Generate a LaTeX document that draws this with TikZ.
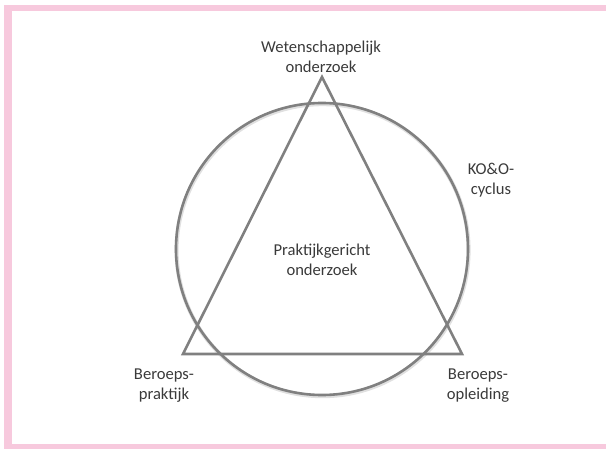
\documentclass[tikz,border=0pt]{standalone}
\usepackage{fontspec}
\setmainfont{Carlito}
\definecolor{framepink}{HTML}{F7C9DD}
\definecolor{linegray}{HTML}{808080}
\definecolor{textgray}{HTML}{3A3A3A}
\tikzset{
  lbl/.style={align=center, text=textgray, font=\fontsize{16.6}{20}\selectfont, inner sep=0pt},
  shape line/.style={draw=linegray, line width=2.6pt, line join=miter}
}
\begin{document}
\begin{tikzpicture}[x=1pt,y=-1pt]
\useasboundingbox (0,0) rectangle (606,449);
% pink frame
\fill[framepink] (4,5) rectangle (606,11.5);
\fill[framepink] (4,5) rectangle (11.5,449);
\fill[framepink] (4,444.5) rectangle (606,449);
% circle (KO&O-cyclus)
\coordinate (c) at (322,249);
\draw[shape line, draw=black!12, line width=4pt] (322.6,250.2) circle (146);
\draw[shape line] (c) circle (146);
% triangle
\coordinate (top) at (322,77);
\coordinate (bl) at (183,354);
\coordinate (br) at (462,354);
\draw[shape line] (top) -- (br) -- (bl) -- cycle;
% labels
\node[lbl] (wo) at (321,57) {Wetenschappelijk\\onderzoek};
\node[lbl] (ko) at (491,180) {KO\&O-\\cyclus};
\node[lbl] (po) at (322,260) {Praktijkgericht\\onderzoek};
\node[lbl] (bp) at (164,386) {Beroeps-\\praktijk};
\node[lbl] (bo) at (478,386) {Beroeps-\\opleiding};
\end{tikzpicture}
\end{document}
